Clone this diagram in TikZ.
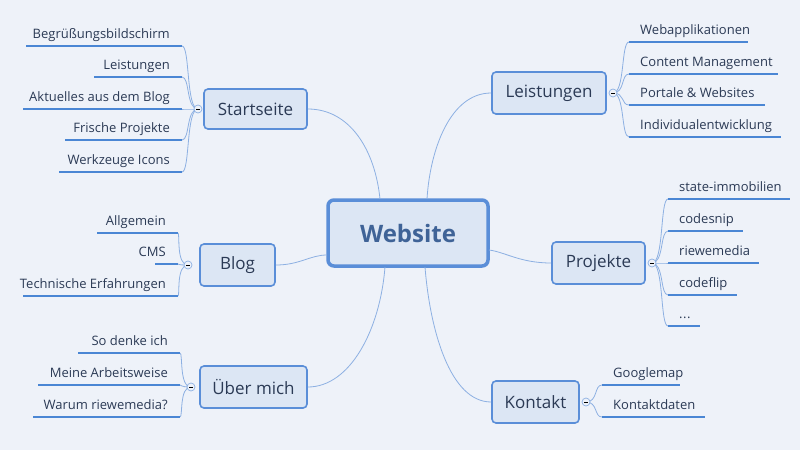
\documentclass[tikz,border=0pt]{standalone}
\usepackage{fontspec}
\setmainfont{Open Sans}
\definecolor{bg}{HTML}{EEF2F9}
\definecolor{boxfill}{HTML}{DCE6F4}
\definecolor{boxline}{HTML}{5A8ED8}
\definecolor{uline}{HTML}{4A86D4}
\definecolor{thin}{HTML}{8DB0E2}
\definecolor{txt}{HTML}{2B3A55}
\tikzset{
  topic/.style={draw=boxline,line width=1.6pt,fill=boxfill,rounded corners=4pt,text=txt,font=\fontsize{17}{20}\selectfont,inner sep=0pt},
  leaf/.style={text=txt,font=\fontsize{13}{15}\selectfont,inner sep=0pt},
  uln/.style={draw=uline,line width=2.6pt},
  conn/.style={draw=thin,line width=0.8pt},
  knob/.style={circle,draw=thin,fill=bg,minimum size=8pt,inner sep=0pt,line width=0.7pt},
}
\newcommand{\dotsthree}{.\kern0.5pt.\kern0.5pt.}
\begin{document}
\begin{tikzpicture}[x=1pt,y=-1pt]
\fill[bg] (0,0) rectangle (800,450);
\useasboundingbox (0,0) rectangle (800,450);
% central
\node[draw=boxline,line width=3.5pt,fill=boxfill,rounded corners=6pt,minimum width=160pt,minimum height=66pt,text=boxline!70!black,font=\fontsize{24}{28}\selectfont\bfseries] (web) at (408,233) {Website};
% topics
\node[topic,minimum width=103pt,minimum height=40pt] (start) at (255.5,109) {Startseite};
\node[topic,minimum width=114pt,minimum height=42pt] (leist) at (549,93) {Leistungen};
\node[topic,minimum width=75pt,minimum height=42pt] (blog) at (237.5,265) {Blog};
\node[topic,minimum width=93pt,minimum height=42pt] (proj) at (598.5,263) {Projekte};
\node[topic,minimum width=107pt,minimum height=42pt] (ueber) at (253.5,387) {Über mich};
\node[topic,minimum width=87pt,minimum height=42pt] (kont) at (535.5,402) {Kontakt};
% main connectors
\draw[conn] (start.east) .. controls (350,109) and (375,150) .. (380,199);
\draw[conn] (leist.west) .. controls (450,93) and (430,150) .. (427,199);
\draw[conn] (blog.east) .. controls (300,265) and (310,255) .. (327,255);
\draw[conn] (proj.west) .. controls (520,263) and (505,252) .. (489,250);
\draw[conn] (ueber.east) .. controls (350,387) and (380,330) .. (385,267);
\draw[conn] (kont.west) .. controls (450,402) and (430,330) .. (425,267);
\newcommand{\leftbranch}[4]{%
  \coordinate (#1k) at (#2,#3);
  \foreach \lx/\rx/\ly/\t [count=\i] in {#4} {
    \draw[conn] (#1k) .. controls (#2-12,#3) and (#2-8,\ly) .. (\rx,\ly);
    \draw[uln] (\lx,\ly) -- (\rx,\ly);
    \node[leaf,anchor=base east] (#1l\i) at (\rx-12,\ly-8) {\t};
  }
  \node[knob] at (#1k) {};
  \draw[thin,line width=0.7pt] ([xshift=-2pt]#1k) -- ([xshift=2pt]#1k);
}
\newcommand{\rightbranch}[4]{%
  \coordinate (#1k) at (#2,#3);
  \foreach \lx/\rx/\ly/\t [count=\i] in {#4} {
    \draw[conn] (#1k) .. controls (#2+12,#3) and (#2+8,\ly) .. (\lx,\ly);
    \draw[uln] (\lx,\ly) -- (\rx,\ly);
    \node[leaf,anchor=base west] (#1l\i) at (\lx+11,\ly-8) {\t};
  }
  \node[knob] at (#1k) {};
  \draw[thin,line width=0.7pt] ([xshift=-2pt]#1k) -- ([xshift=2pt]#1k);
}
\leftbranch{s}{198}{109}{26/182/46/Begrüßungsbildschirm, 94/182/77/Leistungen, 23/182/109/Aktuelles aus dem Blog, 65/182/140/Frische Projekte, 59/182/172/Werkzeuge Icons}
\leftbranch{b}{188}{265}{97/178/233/Allgemein, 155/178/264/CMS, 23/178/296/Technische Erfahrungen}
\leftbranch{u}{191}{387}{78/180/353/So denke ich, 38/180/385/Meine Arbeitsweise, 33/180/417/Warum riewemedia?}
\rightbranch{l}{613}{93}{629/748/42/Webapplikationen, 629/778/74/Content Management, 629/765/105/Portale \& Websites, 629/781/137/Individualentwicklung}
\rightbranch{p}{652}{263}{668/790/199/state-immobilien, 668/743/231/codesnip, 668/759/263/riewemedia, 668/737/295/codeflip, 668/700/326/\dotsthree}
\rightbranch{k}{586}{402}{602/680/385/Googlemap, 602/705/417/Kontaktdaten}
\end{tikzpicture}
\end{document}
